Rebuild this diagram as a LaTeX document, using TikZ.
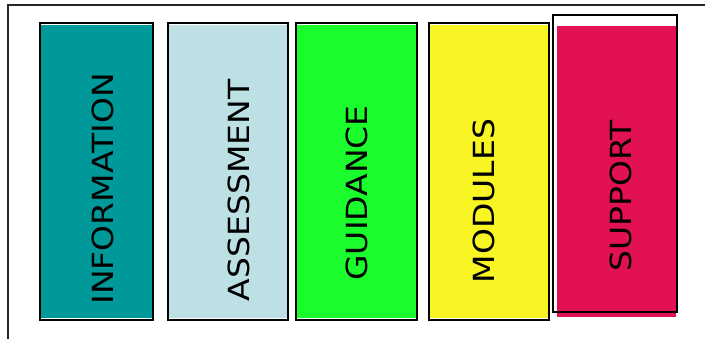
\documentclass[tikz,border=0pt]{standalone}
\usepackage{fontspec}
\setmainfont{DejaVu Sans}
\definecolor{cteal}{HTML}{009999}
\definecolor{clblue}{HTML}{BCE0E4}
\definecolor{cgreen}{HTML}{1BFC2C}
\definecolor{cyellow}{HTML}{F9F423}
\definecolor{cmag}{HTML}{E11154}
\newcommand{\stretchtxt}[1]{\scalebox{1.1}[0.97]{#1}}
\tikzset{
  outline/.style={draw=black, line width=1.4pt},
  label/.style={rotate=90, inner sep=0pt, font=\fontsize{30}{36}\selectfont, text=black},
}
\begin{document}
\begin{tikzpicture}[x=1pt,y=-1pt]
\useasboundingbox (0,0) rectangle (705,339);
% outer frame
\draw[line width=1.3pt, draw=black!85] (710,5) -- (8,5) -- (8,345);
% INFORMATION
\fill[cteal] (41,25) rectangle (152,318);
\draw[outline] (40,23) rectangle (153,320);
\node[label] (info) at (103,189) {\stretchtxt{INFORMATION}};
% ASSESSMENT
\fill[clblue] (169,25) rectangle (287,318);
\draw[outline] (168,23) rectangle (288,320);
\node[label] (assess) at (238.5,190.5) {\stretchtxt{ASSESSMENT}};
% GUIDANCE
\fill[cgreen] (297,25) rectangle (416,318);
\draw[outline] (296,23) rectangle (417,320);
\node[label] (guid) at (357,193) {\stretchtxt{GUIDANCE}};
% MODULES
\fill[cyellow] (430,25) rectangle (548,318);
\draw[outline] (429,23) rectangle (549,320);
\node[label] (mod) at (484,201) {\stretchtxt{MODULES}};
% SUPPORT
\draw[outline] (553,15) rectangle (677,312);
\fill[cmag] (557,26) rectangle (676,317);
\draw[line width=1.4pt] (553,312) -- (677,312) -- (677,15);
\node[label] (supp) at (621,196) {\stretchtxt{SUPPORT}};
\end{tikzpicture}
\end{document}
